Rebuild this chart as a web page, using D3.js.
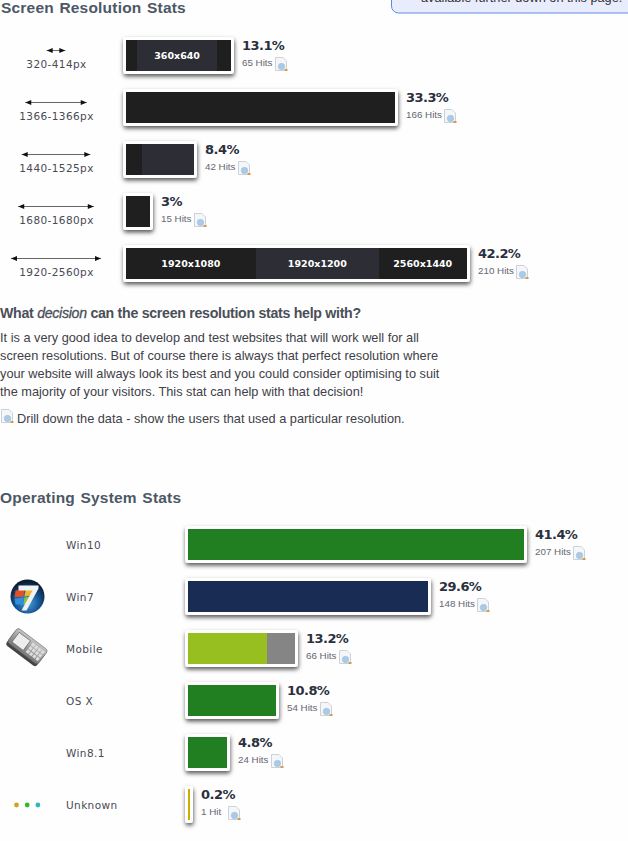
<!DOCTYPE html>
<html>
<head>
<title>Screen Resolution and OS Stats</title>
<script src="https://d3js.org/d3.v7.min.js"></script>
<style>
    html, body { margin: 0; padding: 0; background: #fefefe; overflow: hidden; }
    svg { display: block; }
    text { font-family: "Liberation Sans", Arial, sans-serif; }
    .cat { font-family: "DejaVu Sans", Verdana, sans-serif; font-size: 10.5px; fill: #4a4a55; letter-spacing: .4px; }
    .pct { font-family: "DejaVu Sans", Verdana, sans-serif; font-size: 13px; font-weight: bold; fill: #2b3040; letter-spacing: -.55px; }
    .hits { font-size: 9.8px; fill: #666670; }
    .seg { font-family: "DejaVu Sans", Verdana, sans-serif; font-size: 9.5px; font-weight: bold; fill: #fff; text-anchor: middle; }
    .head { font-size: 15.5px; font-weight: bold; fill: #4c5866; word-spacing: 1px; letter-spacing: .2px; }
    .body { font-size: 12.75px; fill: #404048; }
</style>
</head>
<body>
<script>
    const resLabels = ['320-414px', '1366-1366px', '1440-1525px', '1680-1680px', '1920-2560px']
    const resMax = [414, 1366, 1525, 1680, 2560]
    const resPct = ['13.1%', '33.3%', '8.4%', '3%', '42.2%']
    const resHits = [65, 166, 42, 15, 210]
    const resSegments = [[7, 49, 9], [166], [10, 32], [15], [80, 76, 54]]
    const resSegLabels = [['', '360x640', ''], [''], ['', ''], [''], ['1920x1080', '1920x1200', '2560x1440']]

    const osLabels = ['Win10', 'Win7', 'Mobile', 'OS X', 'Win8.1', 'Unknown']
    const osPct = ['41.4%', '29.6%', '13.2%', '10.8%', '4.8%', '0.2%']
    const osHits = [207, 148, 66, 54, 24, 1]
    const osSegments = [[207], [148], [49, 17], [54], [24], [1]]
    const osColors = [['#217e21'], ['#182c54'], ['#97bf20', '#858585'], ['#217e21'], ['#217e21'], ['#c9b000']]

    const paragraph = [
        'It is a very good idea to develop and test websites that will work well for all',
        'screen resolutions. But of course there is always that perfect resolution where',
        'your website will always look its best and you could consider optimising to suit',
        'the majority of your visitors. This stat can help with that decision!'
    ]

    const svg = d3.select('body').append('svg').attr('width', 628).attr('height', 841)

    const defs = svg.append('defs')
    const shadow = defs.append('filter').attr('id', 'shadow')
        .attr('filterUnits', 'userSpaceOnUse')
        .attr('x', 0).attr('y', 0).attr('width', 628).attr('height', 841)
    shadow.append('feDropShadow').attr('dx', .5).attr('dy', 2.5).attr('stdDeviation', 2.2)
        .attr('flood-color', '#000').attr('flood-opacity', .65)
    const globe = defs.append('radialGradient').attr('id', 'globe')
        .attr('cx', '50%').attr('cy', '68%').attr('r', '62%')
    globe.append('stop').attr('offset', '0%').attr('stop-color', '#4aa3e0')
    globe.append('stop').attr('offset', '60%').attr('stop-color', '#14508f')
    globe.append('stop').attr('offset', '100%').attr('stop-color', '#0a1c30')
    const phoneFill = defs.append('linearGradient').attr('id', 'phone')
        .attr('x1', 0).attr('x2', 0).attr('y1', 0).attr('y2', 1)
    phoneFill.append('stop').attr('offset', '0%').attr('stop-color', '#c4c4c4')
    phoneFill.append('stop').attr('offset', '100%').attr('stop-color', '#777')

    // same px per hit on both charts
    const x = d3.scaleLinear().domain([0, 210]).range([0, 340.5])

    function hitIcon (parent, px, py) {
        const g = parent.append('g').attr('transform', `translate(${px}, ${py})`)
        g.append('path').attr('d', 'M.5 .5H8L11.5 4V13.5H.5Z')
            .attr('fill', '#f4f6f8').attr('stroke', '#cdd2da')
        g.append('circle').attr('cx', 6.5).attr('cy', 9.5).attr('r', 3.2)
            .attr('fill', '#a9cbe8').attr('stroke', '#9dbcd8').attr('stroke-width', .6)
        g.append('rect').attr('x', 9.5).attr('y', 12).attr('width', 3).attr('height', 2)
            .attr('fill', '#d89a4a')
    }

    function drawChart (opts) {
        const rows = svg.append('g')
        const y = d3.scaleBand().domain(d3.range(opts.hits.length))
            .range([opts.top, opts.top + 52 * opts.hits.length]).paddingInner(0)

        opts.hits.forEach((h, i) => {
            const top = y(i)
            const row = rows.append('g').attr('class', 'row')
            const w = Math.max(2, Math.round(x(h)))

            row.append('rect')
                .attr('x', opts.left - 3).attr('y', top - 3)
                .attr('width', w + 6).attr('height', 37)
                .attr('rx', 3).attr('fill', '#fff')
                .attr('filter', 'url(#shadow)')

            const offsets = d3.cumsum(opts.segments[i])
            const edge = k => Math.max(2, Math.round(x(k)))
            row.selectAll('.bar')
                .data(opts.segments[i]).enter()
                .append('rect')
                    .attr('class', 'bar')
                    .attr('x', (d, j) => opts.left + (j ? edge(offsets[j - 1]) : 0))
                    .attr('y', top)
                    .attr('width', (d, j) => edge(offsets[j]) - (j ? edge(offsets[j - 1]) : 0))
                    .attr('height', 31)
                    .attr('fill', (d, j) => opts.color(i, j))

            if (opts.segLabels) {
                row.selectAll('.seg')
                    .data(opts.segments[i]).enter()
                    .append('text')
                        .attr('class', 'seg')
                        .attr('x', (d, j) => opts.left + x(offsets[j] - d / 2))
                        .attr('y', top + 19)
                        .text((d, j) => opts.segLabels[i][j])
            }

            const tx = opts.left + w + 11
            row.append('text').attr('class', 'pct').attr('x', tx).attr('y', top + 10).text(opts.pct[i])
            const hitText = h === 1 ? '1 Hit' : `${h} Hits`
            const label = row.append('text').attr('class', 'hits').attr('x', tx).attr('y', top + 26).text(hitText)
            const tw = label.node().getComputedTextLength()
            hitIcon(row, Math.round(tx + tw + (h === 1 ? 7 : 2.5)), top + 17)
        })
        return y
    }

    // top right note, cut off by the top of the crop
    svg.append('rect').attr('x', 391.5).attr('y', -12).attr('width', 250).attr('height', 25)
        .attr('rx', 7).attr('fill', '#e8ecfd').attr('stroke', '#5a8ae0')
    svg.append('text').attr('x', 421).attr('y', 2).attr('font-size', 12.75).attr('fill', '#333')
        .text('available further down on this page.')

    svg.append('text').attr('class', 'head').attr('x', 1).attr('y', 13).text('Screen Resolution Stats')
    svg.append('text').attr('class', 'head').attr('x', 0).attr('y', 503).text('Operating System Stats')

    const resY = drawChart({
        top: 40, left: 126, hits: resHits, pct: resPct,
        segments: resSegments, segLabels: resSegLabels,
        color: (i, j) => j % 2 === 0 ? '#1f1f1f' : '#2d2e35'
    })
    const osY = drawChart({
        top: 529, left: 188, hits: osHits, pct: osPct,
        segments: osSegments,
        color: (i, j) => osColors[i][j]
    })

    // width arrows over the resolution labels
    const arrow = d3.scaleLinear().domain([0, 2000]).range([0, 90]).clamp(true)
    resMax.forEach((m, i) => {
        const cy = resY(i) + 10.5
        const half = arrow(m) / 2
        const g = svg.append('g')
        g.append('line').attr('x1', 56 - half).attr('x2', 56 + half).attr('y1', cy).attr('y2', cy)
            .attr('stroke', '#666').attr('stroke-width', 1)
        g.append('path').attr('fill', '#111')
            .attr('d', `M${56 - half} ${cy}l6 -2.5v5Z M${56 + half} ${cy}l-6 -2.5v5Z`)
        svg.append('text').attr('class', 'cat').attr('x', 56.5).attr('y', resY(i) + 28)
            .attr('text-anchor', 'middle').text(resLabels[i])
    })

    osLabels.forEach((l, i) => {
        svg.append('text').attr('class', 'cat').attr('x', 66).attr('y', osY(i) + 20).text(l)
    })

    // decision text
    const q = svg.append('text').attr('x', 0).attr('y', 318)
        .attr('font-size', 14.2).attr('font-weight', 'bold').attr('fill', '#4a4f58').attr('letter-spacing', '-.3px')
    q.append('tspan').text('What ')
    q.append('tspan').attr('font-style', 'italic').attr('font-weight', 'normal').attr('stroke', '#4a4f58').attr('stroke-width', .3).text('decision')
    q.append('tspan').text(' can the screen resolution stats help with?')

    svg.selectAll('.body').data(paragraph).enter()
        .append('text').attr('class', 'body')
            .attr('x', 0).attr('y', (d, i) => 342 + i * 18).text(d => d)

    hitIcon(svg, 1, 409)
    svg.append('text').attr('class', 'body').attr('x', 17).attr('y', 423)
        .text('Drill down the data - show the users that used a particular resolution.')

    // win7 logo
    const win = svg.append('g').attr('transform', `translate(27.5, ${osY(1) + 15.5})`)
    win.append('circle').attr('r', 17).attr('fill', 'url(#globe)')
    win.append('path').attr('d', 'M-12 -6L-3 -7L-4 0L-13 1Z').attr('fill', '#e2502a')
    win.append('path').attr('d', 'M-2 -7L6 -7L3 -1L-3 0Z').attr('fill', '#f2b52c')
    win.append('path').attr('d', 'M-13 2L-4 1L-5 8L-12 8Z').attr('fill', '#2f8fe0')
    win.append('path').attr('d', 'M-3 1L3 0L1 7L-4 8Z').attr('fill', '#8cc43a')
    win.append('path').attr('d', 'M-9 -11H11V-8L-1 14H-6L5 -6H-9Z').attr('fill', '#f2f2f2')

    // mobile icon
    const phone = svg.append('g').attr('transform', `translate(27, ${osY(2) + 14}) rotate(37)`)
    phone.append('rect').attr('x', -19).attr('y', -7).attr('width', 38).attr('height', 18).attr('rx', 3)
        .attr('fill', '#444')
    phone.append('rect').attr('x', -19).attr('y', -10).attr('width', 38).attr('height', 18).attr('rx', 3)
        .attr('fill', 'url(#phone)').attr('stroke', '#666').attr('stroke-width', .6)
    phone.append('rect').attr('x', -15).attr('y', -7).attr('width', 14).attr('height', 12)
        .attr('fill', '#eceeec').attr('stroke', '#555').attr('stroke-width', .6)
    phone.selectAll('.key').data(d3.range(12)).enter()
        .append('rect').attr('class', 'key')
            .attr('x', d => 2 + (d % 4) * 4).attr('y', d => -7 + Math.floor(d / 4) * 4.2)
            .attr('width', 3.2).attr('height', 3.4).attr('fill', '#dcdcdc')

    // unknown dots
    svg.selectAll('.dot').data(['#cfa51f', '#35b82c', '#2fb5c4']).enter()
        .append('circle').attr('class', 'dot')
            .attr('cx', (d, i) => 16.5 + i * 10.7).attr('cy', osY(5) + 16)
            .attr('r', 2.4).attr('fill', d => d)
</script>
</body>
</html>
